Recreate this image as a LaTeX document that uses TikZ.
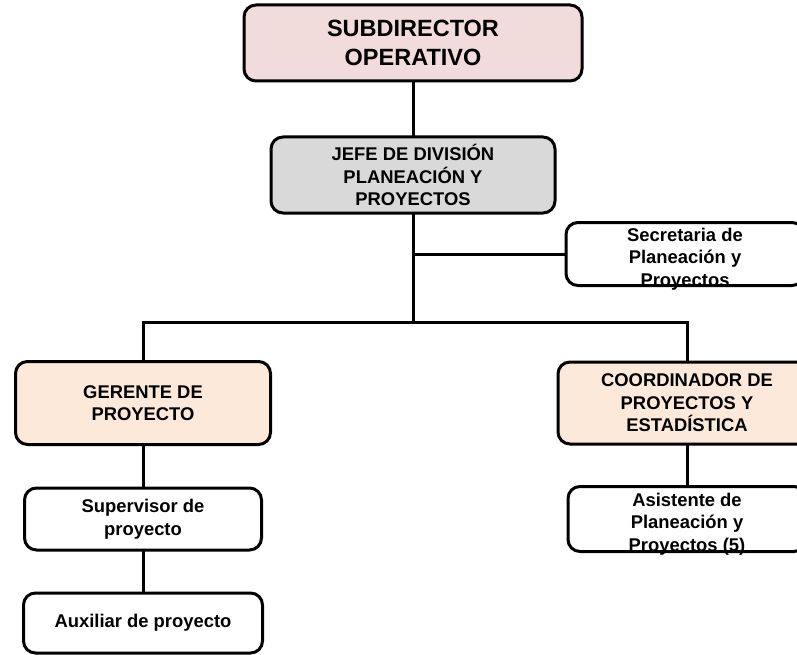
\documentclass[tikz,border=0pt]{standalone}
\usepackage{fontspec}
\setmainfont{Liberation Sans}

\definecolor{subpink}{HTML}{F2DCDB}
\definecolor{jefegray}{HTML}{D9D9D9}
\definecolor{gerpeach}{HTML}{FDE9D9}

\begin{document}
\begin{tikzpicture}[x=1pt,y=-1pt]
\useasboundingbox (0,0) rectangle (797,655);
\clip (0,0) rectangle (797,655);

\begin{scope}[every node/.style={rectangle,rounded corners=12pt,inner sep=0pt,outer sep=0pt}]
    \node[fill=subpink,  minimum width=338pt, minimum height=76pt] (sub)   at (413,43)  {};
    \node[fill=jefegray, minimum width=284pt, minimum height=76pt] (jefe)  at (413,175) {};
    \node[fill=white,    minimum width=238pt, minimum height=63pt] (sec)   at (685,254) {};
    \node[fill=gerpeach, minimum width=255pt, minimum height=83pt] (ger)   at (143,403) {};
    \node[fill=gerpeach, minimum width=258pt, minimum height=82pt] (coord) at (687,403) {};
    \node[fill=white,    minimum width=237pt, minimum height=62pt] (sup)   at (143,519) {};
    \node[fill=white,    minimum width=239pt, minimum height=60pt] (aux)   at (143,623) {};
    \node[fill=white,    minimum width=238pt, minimum height=65pt] (asis)  at (687,519) {};
\end{scope}

\begin{scope}[every node/.style={align=center,font={\bfseries\fontsize{18.4}{22.5}\selectfont}}]
    \node[font={\bfseries\fontsize{23.5}{29}\selectfont}] (sub-t) at (sub) {SUBDIRECTOR\\OPERATIVO};
    \node (jefe-t)  at (jefe)  {JEFE DE DIVISIÓN\\PLANEACIÓN Y\\PROYECTOS};
    \node[yshift=-5pt] (sec-t) at (sec) {Secretaria de\\Planeación y\\Proyectos};
    \node (ger-t)   at (ger)   {GERENTE DE\\PROYECTO};
    \node (coord-t) at (coord) {COORDINADOR DE\\PROYECTOS Y\\ESTADÍSTICA};
    \node (sup-t)   at (sup)   {Supervisor de\\proyecto};
    \node (aux-t)   at (aux)   {Auxiliar de proyecto};
    \node[yshift=-5pt] (asis-t) at (asis) {Asistente de\\Planeación y\\Proyectos (5)};
\end{scope}

\begin{scope}[line width=3pt]
    % borders over the text
    \foreach \b in {sub,jefe,sec,ger,coord,sup,aux,asis}
        \draw[rounded corners=12pt] (\b.south west) rectangle (\b.north east);
    \coordinate (bus) at (413,322);
    \draw (sub.south) -- (jefe.north);
    \draw (jefe.south) -- (bus);
    \draw (sec.west) -- (sec.west -| jefe.south);
    \draw (ger.north) |- (bus) -| (coord.north);
    \draw (ger.south) -- (sup.north);
    \draw (sup.south) -- (aux.north);
    \draw (coord.south) -- (asis.north);
\end{scope}
\end{tikzpicture}
\end{document}
